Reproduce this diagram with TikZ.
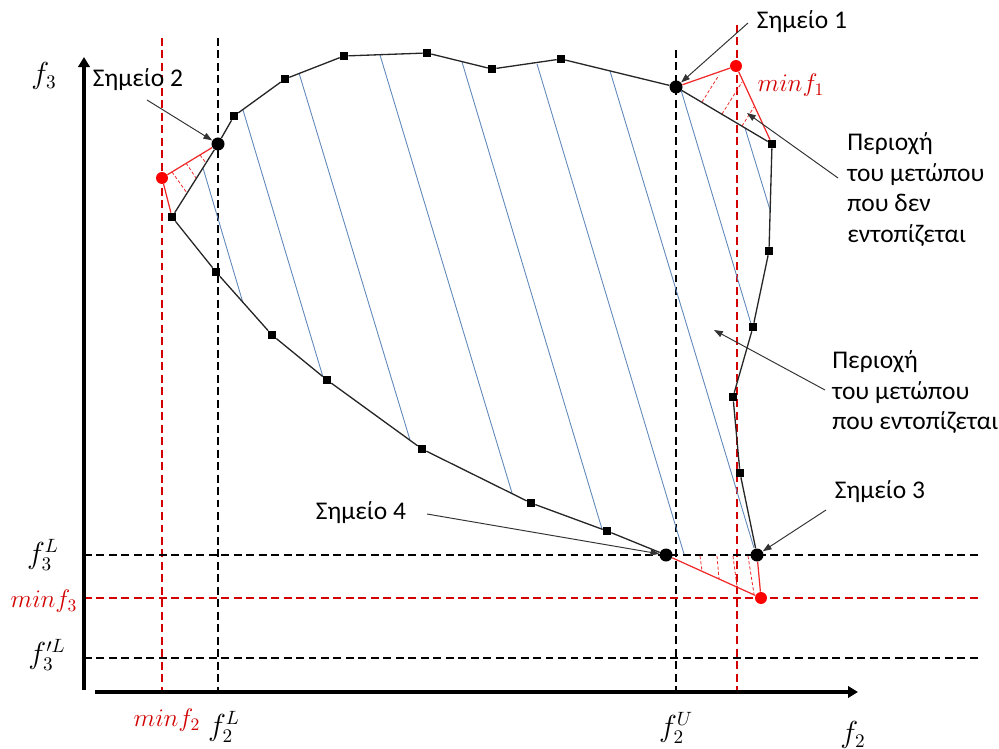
\documentclass[tikz,border=0pt]{standalone}
\usepackage{amsmath,amssymb}
\usepackage{fontspec}
\setmainfont{Carlito}
\usetikzlibrary{arrows.meta}
\usetikzlibrary{positioning}
\definecolor{minred}{RGB}{210,0,0}
\definecolor{dotred}{RGB}{255,0,0}
\definecolor{trired}{RGB}{240,40,40}
\definecolor{hatchblue}{RGB}{95,135,185}
\tikzset{
	guide/.style={line width=1.1pt,dash pattern=on 4.5pt off 2.6pt},
	front/.style={line width=0.75pt,black!85},
	hatch/.style={line width=0.5pt,hatchblue},
	gap/.style={line width=0.7pt,trired},
	gaphatch/.style={line width=0.45pt,trired,dash pattern=on 1.8pt off 1.2pt},
	sol/.style={rectangle,fill=black,inner sep=0pt,minimum size=4.5pt},
	point/.style={circle,fill=black,inner sep=0pt,minimum size=7.4pt},
	ideal/.style={circle,fill=dotred,inner sep=0pt,minimum size=6.8pt},
	pointer/.style={-{Triangle[length=5pt,width=3.6pt]},line width=0.55pt,black!80},
	axis/.style={line width=2.8pt,-{Triangle[length=5.7pt,width=6.5pt]}},
	lbl/.style={font=\fontsize{14.5}{17.5}\selectfont,inner sep=0pt},
	mlbl/.style={font=\fontsize{16}{19}\selectfont,inner sep=0pt},
	minlbl/.style={font=\fontsize{14.5}{17.5}\selectfont,inner sep=0pt,minred}
}

\begin{document}
\begin{tikzpicture}[x=0.02cm,y=-0.02cm]
        \useasboundingbox (0,0) rectangle (999,749);

        % ==================================================
        % 1. GUIDE LINES
        % ==================================================
        \draw[guide,minred] (162,38) -- (162,690);
        \draw[guide] (218,38) -- (218,690);
        \draw[guide] (676,50) -- (676,690);
        \draw[guide,minred] (737,25) -- (737,690);
        \draw[guide] (84,555) -- (978,555);
        \draw[guide,minred] (84,598) -- (978,598);
        \draw[guide] (84,658) -- (978,658);

        % ==================================================
        % 2. HATCHING OF THE FOUND FRONT
        % ==================================================
        \foreach \xa/\ya/\xb/\yb in {203/168/243/303, 243/110/323/377, 299/73/410/440,
                380/55/512/493, 462/62/602/529, 537/64/684/554, 610/71/754/548,
                681/90/752/327, 745/128/770/210}
            \draw[hatch] (\xa,\ya) -- (\xb,\yb);

        % Hatching of the missed parts
        \foreach \xa/\ya/\xb/\yb in {200/155/206/163, 186/163/196/178, 172/172/187/193,
                702/102/719/75, 722/114/742/82, 742/126/754/107,
                700/556/702/571, 717/556/719/579, 733/556/737/587, 748/556/754/594}
            \draw[gaphatch] (\xa,\ya) -- (\xb,\yb);

        % ==================================================
        % 3. FRONT POINTS
        % ==================================================
        % Upper part
        \node[point] (S2) at (218,144) {};
        \node[sol] (P1) at (234,116) {};
        \node[sol] (P2) at (285,79) {};
        \node[sol] (P3) at (344,56) {};
        \node[sol] (P4) at (427,53) {};
        \node[sol] (P5) at (492,69) {};
        \node[sol] (P6) at (561,59) {};
        \node[point] (S1) at (676,87) {};
        \node[sol] (P7) at (772,144) {};
        \node[sol] (P8) at (769,251) {};
        \node[sol] (P9) at (753,327) {};
        \node[sol] (P10) at (733,397) {};
        \node[sol] (P11) at (740,473) {};
        \node[point] (S3) at (757,555) {};

        % Lower part
        \node[sol] (Q1) at (172,217) {};
        \node[sol] (Q2) at (216,272) {};
        \node[sol] (Q3) at (272,335) {};
        \node[sol] (Q4) at (327,380) {};
        \node[sol] (Q5) at (422,449) {};
        \node[sol] (Q6) at (531,503) {};
        \node[sol] (Q7) at (607,531) {};
        \node[point] (S4) at (666,555) {};

        % Minimum points
        \node[ideal] (M1) at (736,66) {};
        \node[ideal] (M2) at (162,178) {};
        \node[ideal] (M3) at (761,598) {};

        \draw[front] (Q1) -- (S2) -- (P1) -- (P2) -- (P3) -- (P4) -- (P5) -- (P6) -- (S1)
            -- (P7) -- (P8) -- (P9) -- (P10) -- (P11) -- (S3);
        \draw[front] (Q1) -- (Q2) -- (Q3) -- (Q4) -- (Q5) -- (Q6) -- (Q7) -- (S4);

        \draw[gap] (S1) -- (M1) -- (P7);
        \draw[gap] (S2) -- (M2) -- (Q1);
        \draw[gap] (S4) -- (M3) -- (S3);

        % ==================================================
        % 4. AXES
        % ==================================================
        \draw[axis] (84,690) -- (84,57);
        \draw[axis] (95,692) -- (858,692);

        \node[mlbl] (f3) at (44,76) {$f_3$};
        \node[mlbl] (f3L) at (43,555) {$f_3^L$};
        \node[minlbl] (min3) at (44,601) {$minf_3$};
        \node[mlbl] (f3pL) at (47,655) {$f_3^{\prime L}$};
        \node[minlbl] (min2) at (167,720) {$minf_2$};
        \node[mlbl] (f2L) at (224,727) {$f_2^L$};
        \node[mlbl] (f2U) at (676,728) {$f_2^U$};
        \node[mlbl] (f2) at (853,735) {$f_2$};
        \node[minlbl] (min1) at (791,85) {$minf_1$};

        % ==================================================
        % 5. ANNOTATIONS
        % ==================================================
        \node[lbl] (lab1) at (802,22) {Σημείο 1};
        \node[lbl] (lab2) at (138,80) {Σημείο 2};
        \node[lbl] (lab3) at (880,492) {Σημείο 3};
        \node[lbl] (lab4) at (361,513) {Σημείο 4};
        \node[lbl,align=left,anchor=north west] (regout) at (847,132)
            {Περιοχή\\του μετώπου\\που δεν\\εντοπίζεται};
        \node[lbl,align=left,anchor=north west] (regin) at (832,350)
            {Περιοχή\\του μετώπου\\που εντοπίζεται};

        \coordinate (t1) at (748,23);
        \coordinate (t2) at (147,100);
        \coordinate (t3) at (826,510);
        \coordinate (t4) at (427,514);
        \coordinate (t5) at (838,178);
        \coordinate (h5) at (747,113);
        \coordinate (t6) at (825,390);
        \coordinate (h6) at (714,330);

        \draw[pointer] (t1) -- (S1);
        \draw[pointer] (t2) -- (S2);
        \draw[pointer] (t3) -- (S3);
        \draw[pointer] (t4) -- (S4);
        \draw[pointer] (t5) -- (h5);
        \draw[pointer] (t6) -- (h6);

    \end{tikzpicture}
\end{document}
